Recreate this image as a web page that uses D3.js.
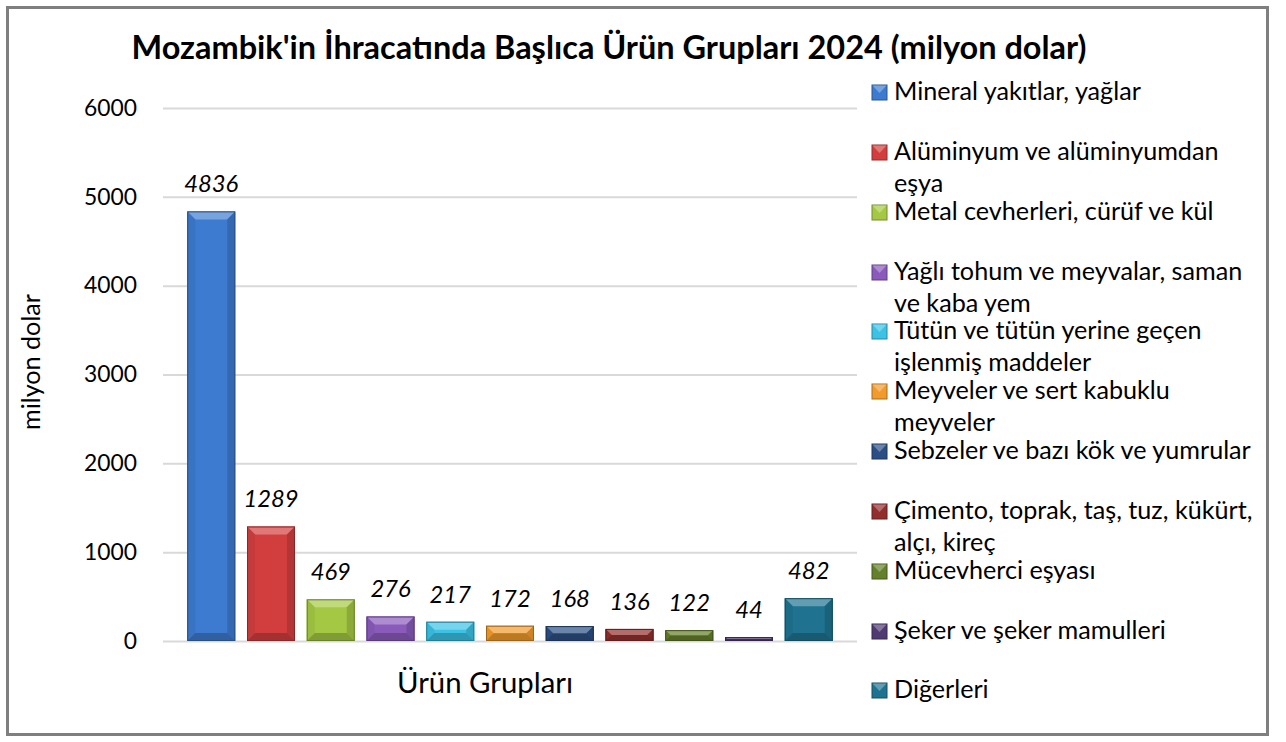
<!DOCTYPE html>
<html>
<head>
<meta charset="utf-8">
<script src="https://cdn.jsdelivr.net/npm/d3@7"></script>
<style>
  body { margin: 0; background: #fff; }
  text { font-family: Lato, "Open Sans", sans-serif; fill: #000; }
</style>
</head>
<body>
<svg id="chart" width="1286" height="742"></svg>
<script>
'use strict';

// data
var categories = ['Mineral yakıtlar, yağlar', 'Alüminyum ve alüminyumdan eşya', 'Metal cevherleri, cürüf ve kül',
  'Yağlı tohum ve meyvalar, saman ve kaba yem', 'Tütün ve tütün yerine geçen işlenmiş maddeler',
  'Meyveler ve sert kabuklu meyveler', 'Sebzeler ve bazı kök ve yumrular',
  'Çimento, toprak, taş, tuz, kükürt, alçı, kireç', 'Mücevherci eşyası', 'Şeker ve şeker mamulleri', 'Diğerleri']
var values = [4836, 1289, 469, 276, 217, 172, 168, 136, 122, 44, 482]
var legendLines = [
  ['Mineral yakıtlar, yağlar'],
  ['Alüminyum ve alüminyumdan', 'eşya'],
  ['Metal cevherleri, cürüf ve kül'],
  ['Yağlı tohum ve meyvalar, saman', 've kaba yem'],
  ['Tütün ve tütün yerine geçen', 'işlenmiş maddeler'],
  ['Meyveler ve sert kabuklu', 'meyveler'],
  ['Sebzeler ve bazı kök ve yumrular'],
  ['Çimento, toprak, taş, tuz, kükürt,', 'alçı, kireç'],
  ['Mücevherci eşyası'],
  ['Şeker ve şeker mamulleri'],
  ['Diğerleri']
]
var colors = ['#3d7bd0', '#d23e3e', '#a4c843', '#8a5bbb', '#3bc2e5', '#f29a2b',
  '#2b4f84', '#922f2d', '#65802a', '#4f3a72', '#1f7390']
var yTicks = [0, 1000, 2000, 3000, 4000, 5000, 6000]

var title = "Mozambik'in İhracatında Başlıca Ürün Grupları 2024 (milyon dolar)"
var xTitle = 'Ürün Grupları'
var yTitle = 'milyon dolar'

var margin = { left: 163, right: 429, top: 108, bottom: 101 },
  width = 1286,
  height = 742,
  drawWidth = width - margin.left - margin.right,
  drawHeight = height - margin.top - margin.bottom

var svg = d3.select('#chart')

// fit font size so a text matches a width
function fitText(sel, target) {
  sel.style('font-size', '100px')
  var w = sel.node().getComputedTextLength()
  var size = 100 * target / w
  sel.style('font-size', size + 'px')
  return size
}

svg.append('rect')
  .attr('x', 7.5).attr('y', 7.5)
  .attr('width', 1260).attr('height', 727)
  .attr('fill', '#fff')
  .attr('stroke', '#7f7f7f')
  .attr('stroke-width', 3)

var titleText = svg.append('text')
  .text(title)
  .attr('x', 609).attr('y', 59)
  .attr('text-anchor', 'middle')
  .style('font-weight', 'bold')
fitText(titleText, 955)

var xScale = d3.scaleBand()
  .domain(categories)
  .range([0, drawWidth])
  .paddingInner(0.197)
  .paddingOuter(0.406)

var yScale = d3.scaleLinear()
  .domain([0, 6000])
  .range([drawHeight, 0])

var g = svg.append('g')
  .attr('transform', 'translate(' + margin.left + ',' + margin.top + ')')

// gridlines
var yAxis = d3.axisLeft(yScale)
  .tickValues(yTicks)
  .tickSize(-drawWidth)
  .tickPadding(26)
  .tickFormat(d3.format('d'))

var yAxisG = g.append('g').attr('class', 'axis').call(yAxis)
yAxisG.select('.domain').remove()
yAxisG.attr('font-family', null).attr('font-size', null)
yAxisG.selectAll('line')
  .attr('stroke', '#d9d9d9')
  .attr('stroke-width', 2)
var tickTexts = yAxisG.selectAll('.tick text')
var tickSize = fitText(tickTexts.filter(function(d) { return d === 6000 }), 53)
tickTexts
  .style('font-size', tickSize + 'px')
  .attr('fill', '#000')

function shade(c, k) {
  return k > 0 ? d3.interpolateRgb(c, '#fff')(k) : d3.interpolateRgb(c, '#000')(-k)
}

// bevelled bars
var bars = g.selectAll('.bar')
  .data(values)
  .enter().append('g')
  .attr('class', 'bar')

bars.each(function(d, i) {
  var sel = d3.select(this)
  var x0 = xScale(categories[i]),
    bw = xScale.bandwidth(),
    y0 = yScale(d),
    y1 = yScale(0),
    h = y1 - y0,
    b = Math.min(8, h / 2, bw / 2),
    c = colors[i]
  sel.append('rect')
    .attr('x', x0).attr('y', y0)
    .attr('width', bw).attr('height', h)
    .attr('fill', c)
  // top bevel
  sel.append('path')
    .attr('d', 'M' + x0 + ',' + y0 + 'L' + (x0 + bw) + ',' + y0 + 'L' + (x0 + bw - b) + ',' + (y0 + b) +
      'L' + (x0 + b) + ',' + (y0 + b) + 'Z')
    .attr('fill', shade(c, 0.3))
  // left bevel
  sel.append('path')
    .attr('d', 'M' + x0 + ',' + y0 + 'L' + (x0 + b) + ',' + (y0 + b) + 'L' + (x0 + b) + ',' + (y1 - b) +
      'L' + x0 + ',' + y1 + 'Z')
    .attr('fill', shade(c, -0.06))
  // right bevel
  sel.append('path')
    .attr('d', 'M' + (x0 + bw) + ',' + y0 + 'L' + (x0 + bw - b) + ',' + (y0 + b) + 'L' + (x0 + bw - b) + ',' + (y1 - b) +
      'L' + (x0 + bw) + ',' + y1 + 'Z')
    .attr('fill', shade(c, -0.15))
  // bottom bevel
  sel.append('path')
    .attr('d', 'M' + x0 + ',' + y1 + 'L' + (x0 + b) + ',' + (y1 - b) + 'L' + (x0 + bw - b) + ',' + (y1 - b) +
      'L' + (x0 + bw) + ',' + y1 + 'Z')
    .attr('fill', shade(c, -0.22))
  sel.append('rect')
    .attr('x', x0 + 0.5).attr('y', y0 + 0.5)
    .attr('width', bw - 1).attr('height', Math.max(0, h - 1))
    .attr('fill', 'none')
    .attr('stroke', shade(c, -0.35))
    .attr('stroke-width', 1)
})

// data labels
var labels = g.selectAll('.label')
  .data(values)
  .enter().append('text')
  .attr('class', 'label')
  .attr('x', function(d, i) { return xScale(categories[i]) + xScale.bandwidth() / 2 })
  .attr('y', function(d) { return yScale(d) - 19 })
  .attr('text-anchor', 'middle')
  .style('font-style', 'italic')
  .text(function(d) { return d })
var labelSize = fitText(labels.filter(function(d, i) { return i === 0 }), 54)
labels.style('font-size', labelSize + 'px')

// axis titles
var xTitleText = svg.append('text')
  .text(xTitle)
  .attr('x', 485).attr('y', 693)
  .attr('text-anchor', 'middle')
fitText(xTitleText, 176)

var yTitleText = svg.append('text')
  .text(yTitle)
  .attr('transform', 'translate(40,362) rotate(-90)')
  .attr('text-anchor', 'middle')
fitText(yTitleText, 136)

// legend
var legendRows = [92, 152, 212, 272, 331, 391, 451, 511, 571, 631, 690]
var legend = svg.append('g').attr('class', 'legend')
var legendSize
legendLines.forEach(function(lines, i) {
  var item = legend.append('g').attr('transform', 'translate(872,' + legendRows[i] + ')')
  var c = colors[i]
  item.append('rect')
    .attr('x', 0).attr('y', -7).attr('width', 15).attr('height', 15)
    .attr('fill', c)
    .attr('stroke', shade(c, -0.3))
  item.append('path')
    .attr('d', 'M0.5,-6.5L14.5,-6.5L7.5,1Z')
    .attr('fill', shade(c, 0.3))
  var t = item.append('text')
    .attr('x', 22)
    .attr('y', 8)
  lines.forEach(function(line, j) {
    t.append('tspan')
      .attr('x', 22)
      .attr('dy', j === 0 ? 0 : 31.5)
      .text(line)
  })
  if (i === 0) legendSize = fitText(t, 247)
  t.style('font-size', legendSize + 'px')
})
</script>
</body>
</html>
